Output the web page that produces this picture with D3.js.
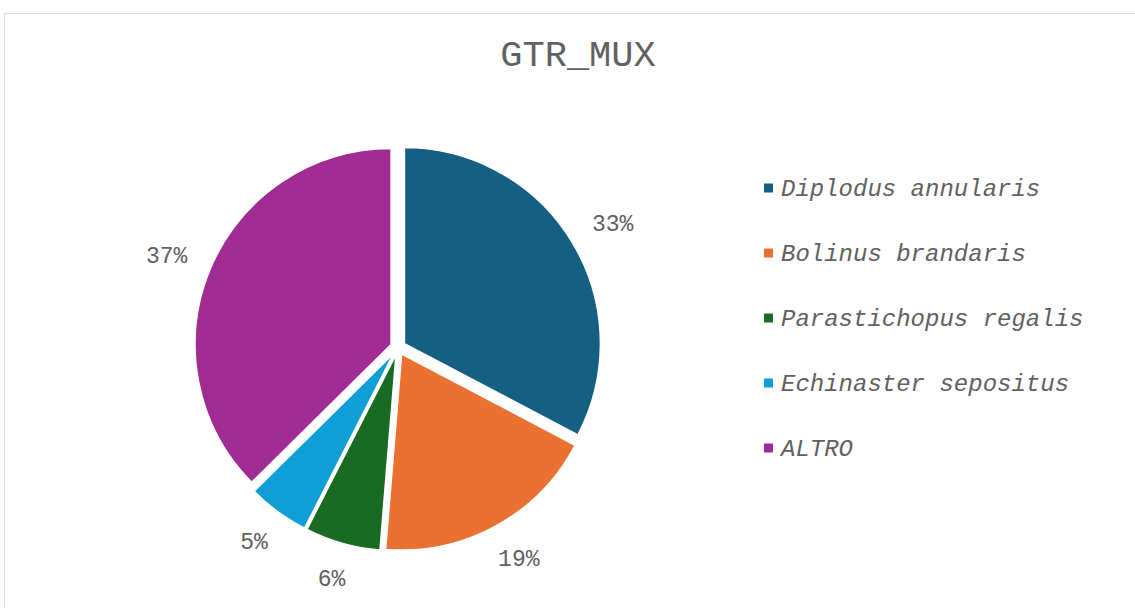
<!DOCTYPE html>
<html>
<head>
<meta charset="utf-8">
<script src="https://cdn.jsdelivr.net/npm/d3@7"></script>
<style>
  html, body { margin: 0; padding: 0; background: #fff; }
  svg { display: block; }
</style>
</head>
<body>
<svg id="chart" width="1135" height="608"></svg>
<script>
const title = "GTR_MUX";
const categories = ["Diplodus annularis", "Bolinus brandaris", "Parastichopus regalis", "Echinaster sepositus", "ALTRO"];
const values = [32.7, 18.6, 6.2, 5.1, 37.4];
const colors = ["#156082", "#E97132", "#196B24", "#0F9ED5", "#A02B93"];

const svg = d3.select("#chart");
const W = 1135, H = 608;
const FONT = "'Liberation Mono', 'Courier New', monospace";
const TXT = "#616161";

// chart area border
svg.append("rect")
  .attr("x", 4.5).attr("y", 13.5)
  .attr("width", W + 10).attr("height", H + 10)
  .attr("fill", "#fff").attr("stroke", "#d9d9d9").attr("stroke-width", 1);

svg.append("text")
  .attr("x", 578).attr("y", 66)
  .attr("text-anchor", "middle")
  .attr("font-family", FONT)
  .attr("font-size", 37)
  .attr("fill", TXT)
  .text(title);

const cx = 398, cy = 347.5, r = 196, explode = 7.5, labelR = 230;
const total = d3.sum(values);
const pie = d3.pie().sort(null).value(d => d)(values);
const arc = d3.arc().innerRadius(0).outerRadius(r);

const g = svg.append("g").attr("transform", `translate(${cx},${cy})`);

g.selectAll("path.slice")
  .data(pie)
  .join("path")
  .attr("class", "slice")
  .attr("d", arc)
  .attr("fill", (d, i) => colors[i])
  .attr("stroke", "#fff")
  .attr("stroke-width", 1.5)
  .attr("transform", d => {
    const a = (d.startAngle + d.endAngle) / 2;
    return `translate(${explode * Math.sin(a)},${-explode * Math.cos(a)})`;
  });

const fmt = d3.format(".0%");
const labelFont = 23;
const lbl = g.selectAll("text.lbl")
  .data(pie)
  .join("text")
  .attr("class", "lbl")
  .attr("text-anchor", "middle")
  .attr("dy", "0.35em")
  .attr("font-family", FONT)
  .attr("font-size", labelFont)
  .attr("fill", TXT)
  .text(d => fmt(d.data / total));

// place label box tangent to a circle of radius labelR along the mid angle
lbl.each(function(d) {
  const a = (d.startAngle + d.endAngle) / 2;
  const bb = this.getBBox();
  const hw = bb.width / 2, hh = 10;
  const ux = Math.sin(a), uy = -Math.cos(a);
  d3.select(this)
    .attr("x", labelR * ux + hw * ux)
    .attr("y", labelR * uy + hh * uy);
});

// legend
const legY = d3.scalePoint().domain(categories).range([188, 448]);
const leg = svg.append("g");
const items = leg.selectAll("g").data(categories).join("g")
  .attr("transform", d => `translate(765,${legY(d)})`);
items.append("rect")
  .attr("x", -1).attr("y", -4.5)
  .attr("width", 9).attr("height", 9)
  .attr("fill", (d, i) => colors[i]);
items.append("text")
  .attr("x", 16).attr("dy", "0.35em")
  .attr("font-family", FONT)
  .attr("font-style", "italic")
  .attr("font-size", 24)
  .attr("fill", TXT)
  .text(d => d);
</script>
</body>
</html>
